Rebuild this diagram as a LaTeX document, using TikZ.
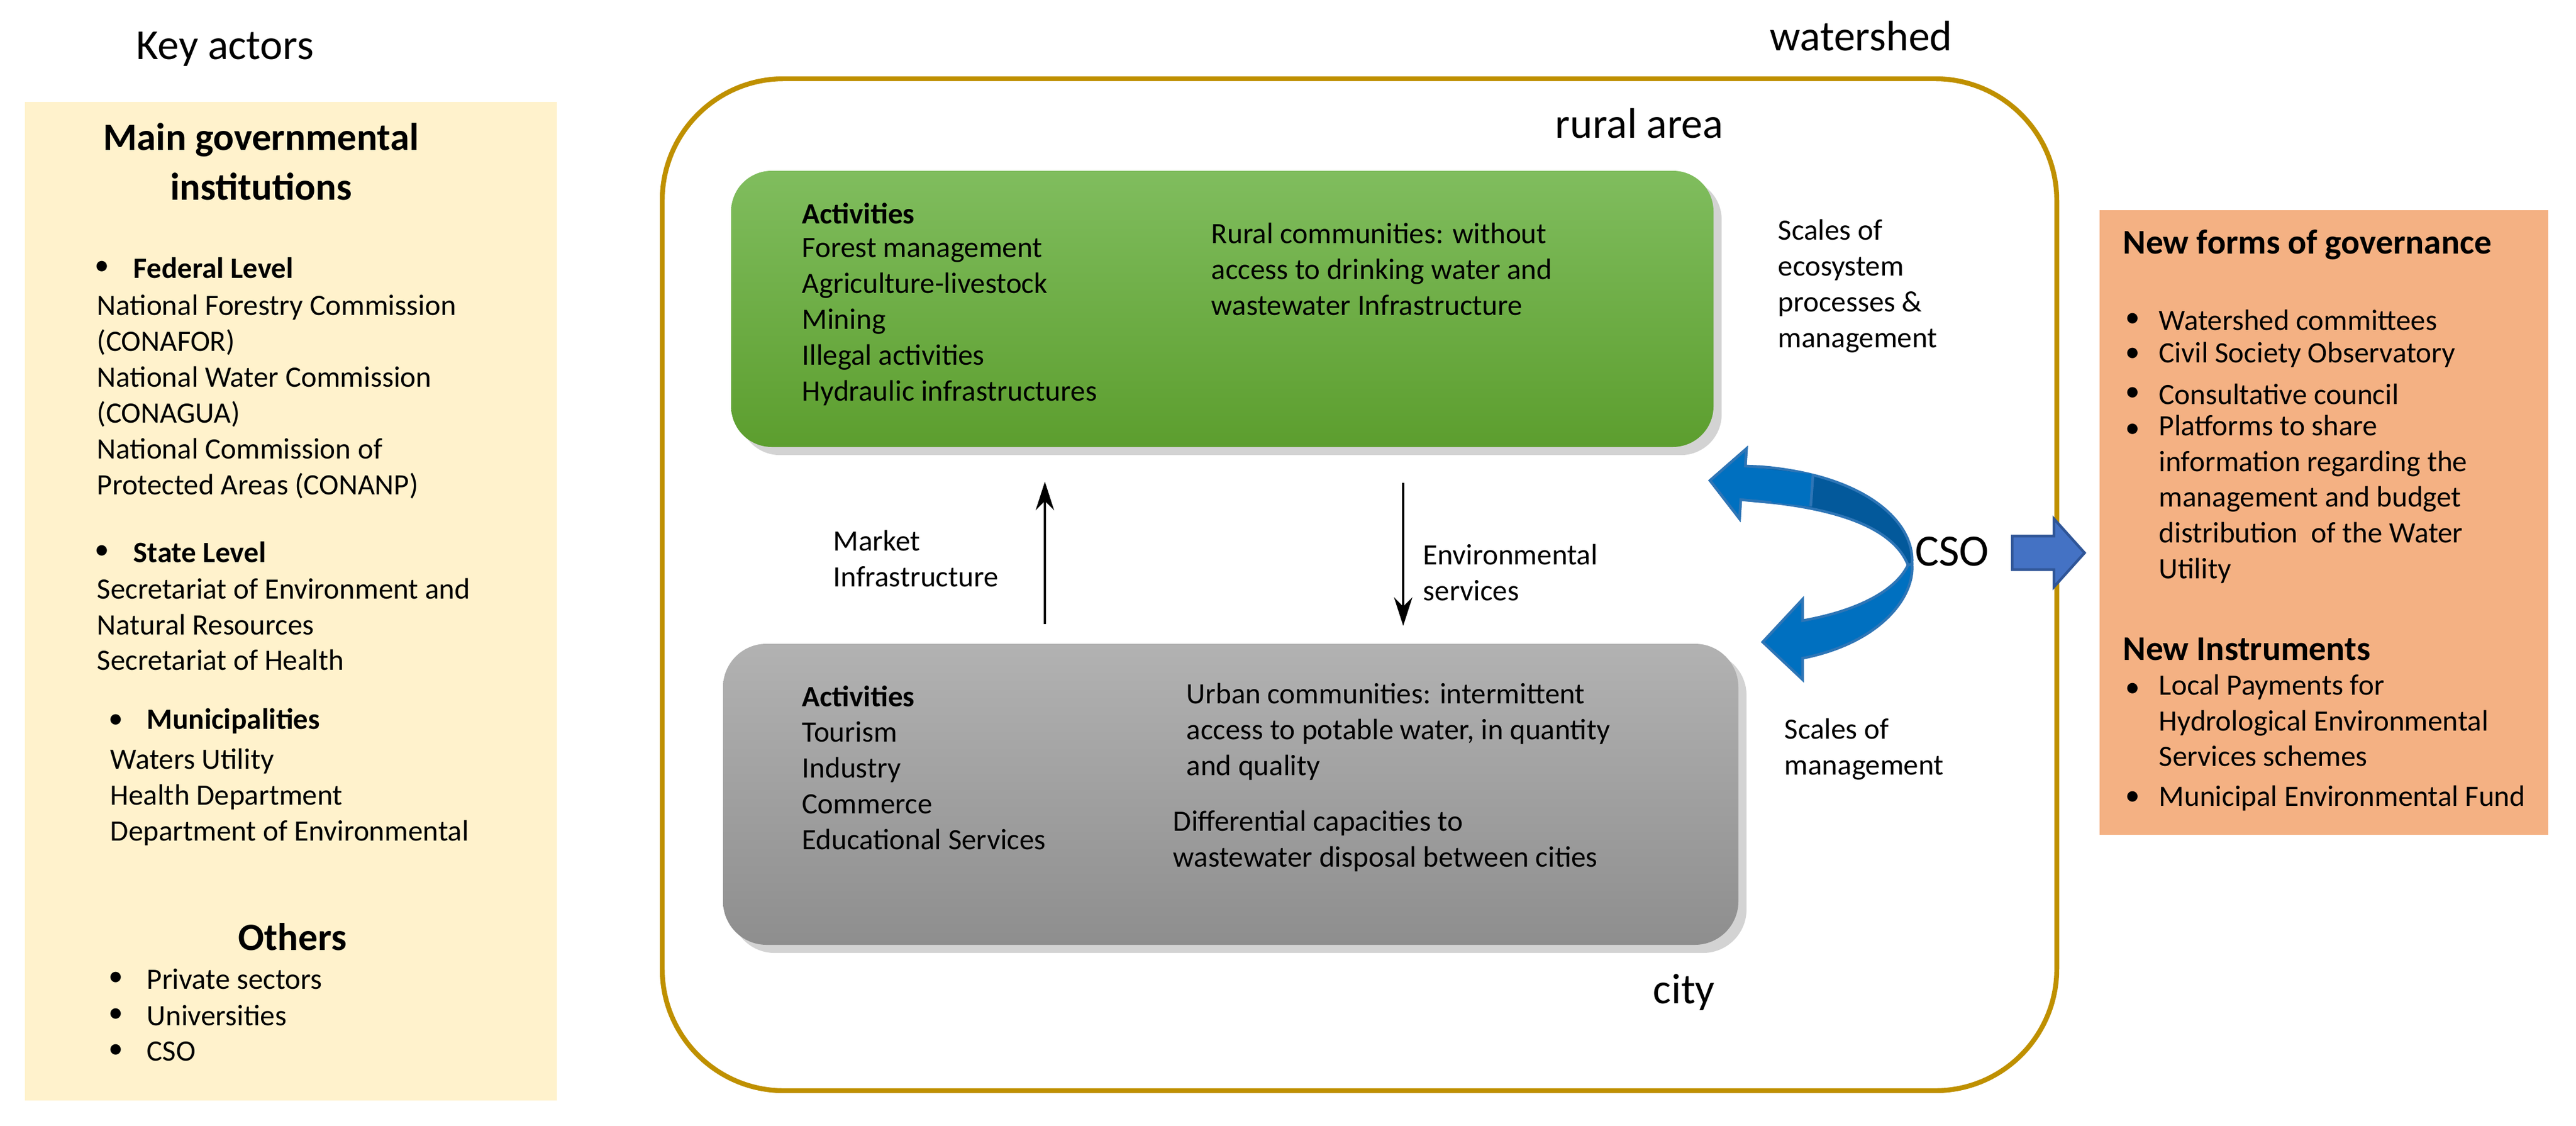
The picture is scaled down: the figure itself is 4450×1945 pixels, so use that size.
\documentclass[tikz,border=0pt]{standalone}
\usepackage{fontspec}
\setmainfont{Carlito}
\usetikzlibrary{shadows,arrows.meta}
\definecolor{ylw}{HTML}{FFF2CC}
\definecolor{org}{HTML}{F4B183}
\definecolor{gold}{HTML}{BF9000}
\definecolor{gtop}{HTML}{80BD5E}
\definecolor{gbot}{HTML}{5C9E2E}
\definecolor{ytop}{HTML}{B2B2B2}
\definecolor{ybot}{HTML}{8E8E8E}
\definecolor{bdark}{HTML}{03599B}
\definecolor{bmid}{HTML}{0070C0}
\definecolor{bedge}{HTML}{2E75B6}
\definecolor{rblue}{HTML}{4472C4}
\definecolor{rblueE}{HTML}{2F5597}
\begin{document}
\begin{tikzpicture}[x=0.01cm,y=-0.01cm,
  body/.style={font=\fontsize{14.5}{17.6}\selectfont,align=left,anchor=west,inner sep=0pt},
  bold/.style={body,font=\fontsize{14.5}{17.6}\selectfont\bfseries},
  big/.style={font=\fontsize{21}{25}\selectfont,inner sep=0pt},
  title/.style={font=\fontsize{19}{24.5}\selectfont\bfseries,align=center,inner sep=0pt},
  bul/.style={body,anchor=center},
  varrow/.style={-{Stealth[length=14pt,width=9pt]},line width=1.2pt}]
\useasboundingbox (0,0) rectangle (4450,1945);
% left box
\fill[ylw] (43,176) rectangle (962,1901);
\node[big] (ka) at (389,85) {Key actors};
\node[title] (mgi) at (451,279) {Main governmental\\institutions};
\node[bul] (b1) at (176,463) {\textbullet};
\node[bold] (fl) at (230,463) {Federal Level};
\node[body] (flt) at (167,685.5) {National Forestry Commission\\(CONAFOR)\\National Water Commission\\(CONAGUA)\\National Commission of\\Protected Areas (CONANP)};
\node[bul] (b2) at (176,954) {\textbullet};
\node[bold] (sl) at (230,954) {State Level};
\node[body] (slt) at (167,1078.5) {Secretariat of Environment and\\Natural Resources\\Secretariat of Health};
\node[bul] (b3) at (200,1246) {\textbullet};
\node[bold] (mu) at (253,1246) {Municipalities};
\node[body] (mut) at (190,1376.5) {Waters Utility\\Health Department\\Department of Environmental};
\node[title] (oth) at (505,1618) {Others};
\node[bul] (b4) at (200,1691) {\textbullet};
\node[body] (o1) at (253,1691) {Private sectors};
\node[bul] (b5) at (200,1754) {\textbullet};
\node[body] (o2) at (253,1754) {Universities};
\node[bul] (b6) at (200,1816) {\textbullet};
\node[body] (o3) at (253,1816) {CSO};
% watershed
\draw[gold,line width=2.4pt,rounded corners=2.1cm] (1144,136) rectangle (3553,1884);
\node[big] (ws) at (3215,62) {watershed};
\node[big] (ra) at (2832,213) {rural area};
\node[big] (ci) at (2909,1714) {city};
% green box
\shade[top color=gtop,bottom color=gbot,rounded corners=0.7cm,drop shadow={opacity=0.35,shadow xshift=4pt,shadow yshift=-4pt}] (1263,295) rectangle (2960,772);
\node[bold] (ga) at (1385,369) {Activities};
\node[body] (gl) at (1385,556) {Forest management\\Agriculture-livestock\\Mining\\Illegal activities\\Hydraulic infrastructures};
\node[body] (gr) at (2092,465) {Rural communities: without\\access to drinking water and\\wastewater Infrastructure};
% gray box
\shade[top color=ytop,bottom color=ybot,rounded corners=0.75cm,drop shadow={opacity=0.35,shadow xshift=4pt,shadow yshift=-4pt}] (1249,1112) rectangle (3003,1632);
\node[bold] (ya) at (1385,1203) {Activities};
\node[body] (yl) at (1385,1357) {Tourism\\Industry\\Commerce\\Educational Services};
\node[body] (yr) at (2049,1264) {Urban communities: intermittent\\access to potable water, in quantity\\and quality};
\node[body] (yr2) at (2026,1453) {Differential capacities to\\wastewater disposal between cities};
% vertical arrows
\coordinate (ua) at (1805,1078); \coordinate (ub) at (1805,832);
\coordinate (da) at (2424,834); \coordinate (db) at (2424,1081);
\draw[varrow] (ua) -- (ub);
\draw[varrow] (da) -- (db);
\node[body] (mk) at (1439,965) {Market\\Infrastructure};
\node[body] (es) at (2458,989) {Environmental\\services};
\node[body] (sc1) at (3071,494) {Scales of\\ecosystem\\processes \&\\management};
\node[body] (sc2) at (3082,1294) {Scales of\\management};
% curved arrow: lower arm
\draw[bedge,line width=1.3pt,fill=bmid,line join=miter]
  (3303,974) .. controls (3308,1030) and (3250,1110) .. (3114,1137)
  -- (3114,1174) -- (3045,1109) -- (3114,1035) -- (3114,1072)
  .. controls (3210,1055) and (3275,1020) .. (3296,976) -- cycle;
% upper arm
\draw[bedge,line width=1.3pt,fill=bdark,line join=miter]
  (3303,974) .. controls (3308,900) and (3220,820) .. (3040,806)
  -- (3015,805) -- (3017,775) -- (2954,830) -- (3005,896) -- (3007,863)
  -- (3040,866) .. controls (3170,878) and (3270,910) .. (3296,976) -- cycle;
\fill[bmid] (3015,806) -- (3132,819) -- (3128,875) -- (3007,862) -- (3005,894) -- (2957,830) -- (3016,777) -- cycle;
\draw[bedge,line width=1.3pt,line join=miter] (3060,808) -- (3015,805) -- (3017,775) -- (2954,830) -- (3005,896) -- (3007,863) -- (3060,868);
\draw[bedge,line width=1.3pt] (3132,819) -- (3128,875);
\node[big,font=\fontsize{22}{26}\selectfont] (cso) at (3372,953) {CSO};
% block arrow
\draw[rblueE,line width=1.3pt,fill=rblue] (3476,926) -- (3548,926) -- (3548,896) -- (3601,955) -- (3548,1014) -- (3548,984) -- (3476,984) -- cycle;
% orange box
\fill[org] (3627,363) rectangle (4402,1442);
\node[bold,font=\fontsize{17}{20}\selectfont\bfseries] (nfg) at (3667,423) {New forms of governance};
\foreach \y/\t [count=\i] in {553/Watershed committees,613/Civil Society Observatory,681/Consultative council}
  {\node[bul] (ob\i) at (3684,\y) {\textbullet}; \node[body] (ot\i) at (3729,\y) {\t};}
\node[bul] (ob4) at (3684,744) {\textbullet};
\node[body,anchor=north west] (ot4) at (3729,716) {Platforms to share\\information regarding the\\management and budget\\distribution\ \ of the Water\\Utility};
\node[bold,font=\fontsize{17}{20}\selectfont\bfseries] (ni) at (3667,1121) {New Instruments};
\node[bul] (ib1) at (3684,1192) {\textbullet};
\node[body,anchor=north west] (it1) at (3729,1164) {Local Payments for\\Hydrological Environmental\\Services schemes};
\node[bul] (ib2) at (3684,1379) {\textbullet};
\node[body] (it2) at (3729,1379) {Municipal Environmental Fund};
\end{tikzpicture}
\end{document}
